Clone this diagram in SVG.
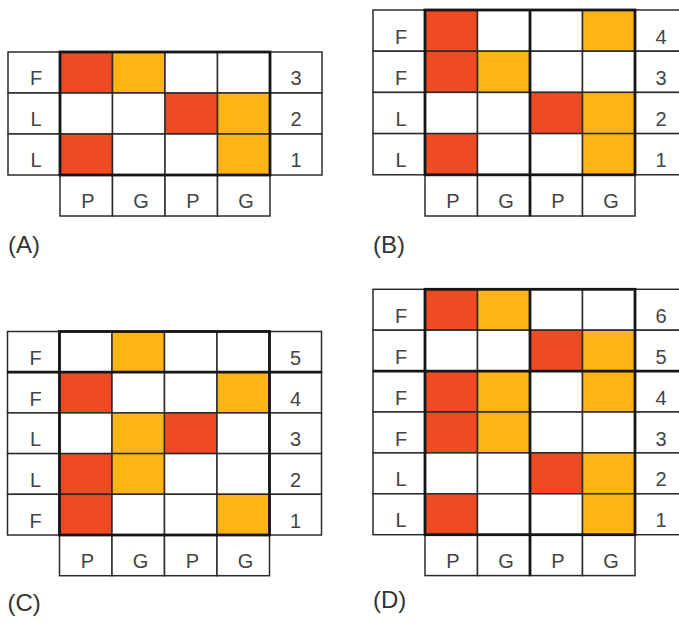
<svg xmlns="http://www.w3.org/2000/svg" width="679" height="625" viewBox="0 0 679 625">
<style>
rect{stroke:#2b2b2b;stroke-width:1.5}
rect.bg{fill:#fff;stroke:none}
.w{fill:#fff}
.r{fill:#EE4B22}
.y{fill:#FDB515}
.o{fill:none;stroke:#161616;stroke-width:2.8}
.k{stroke:#161616;stroke-width:2.8}
.t{font-family:"Liberation Sans",Arial,sans-serif;font-size:20px;fill:#444;text-anchor:middle}
.lab{font-family:"Liberation Sans",Arial,sans-serif;font-size:24px;fill:#333}
</style>
<rect class="bg" x="0" y="0" width="679" height="625"/>

<g id="panelA" transform="translate(8,52)">
<rect class="w" x="0" y="0" width="52" height="41"/><rect class="r" x="52" y="0" width="52.5" height="41"/><rect class="y" x="104.5" y="0" width="52.5" height="41"/><rect class="w" x="157" y="0" width="52.5" height="41"/><rect class="w" x="209.5" y="0" width="52.5" height="41"/><rect class="w" x="262" y="0" width="52" height="41"/>
<rect class="w" x="0" y="41" width="52" height="41"/><rect class="w" x="52" y="41" width="52.5" height="41"/><rect class="w" x="104.5" y="41" width="52.5" height="41"/><rect class="r" x="157" y="41" width="52.5" height="41"/><rect class="y" x="209.5" y="41" width="52.5" height="41"/><rect class="w" x="262" y="41" width="52" height="41"/>
<rect class="w" x="0" y="82" width="52" height="41"/><rect class="r" x="52" y="82" width="52.5" height="41"/><rect class="w" x="104.5" y="82" width="52.5" height="41"/><rect class="w" x="157" y="82" width="52.5" height="41"/><rect class="y" x="209.5" y="82" width="52.5" height="41"/><rect class="w" x="262" y="82" width="52" height="41"/>
<rect class="w" x="52" y="123" width="52.5" height="41"/><rect class="w" x="104.5" y="123" width="52.5" height="41"/><rect class="w" x="157" y="123" width="52.5" height="41"/><rect class="w" x="209.5" y="123" width="52.5" height="41"/>
<rect class="o" x="52" y="0" width="210" height="123"/>
<text class="t" x="28" y="33">F</text><text class="t" x="288" y="33">3</text>
<text class="t" x="28" y="74">L</text><text class="t" x="288" y="74">2</text>
<text class="t" x="28" y="115">L</text><text class="t" x="288" y="115">1</text>
<text class="t" x="80" y="156">P</text><text class="t" x="133" y="156">G</text><text class="t" x="185" y="156">P</text><text class="t" x="238" y="156">G</text>
<text class="lab" x="0" y="201">(A)</text>
</g>

<g id="panelB" transform="translate(373,10)">
<rect class="w" x="0" y="0" width="52" height="41.2"/><rect class="r" x="52" y="0" width="52.5" height="41.2"/><rect class="w" x="104.5" y="0" width="52.5" height="41.2"/><rect class="w" x="157" y="0" width="52.5" height="41.2"/><rect class="y" x="209.5" y="0" width="52.5" height="41.2"/><rect class="w" x="262" y="0" width="52" height="41.2"/>
<rect class="w" x="0" y="41.2" width="52" height="41.2"/><rect class="r" x="52" y="41.2" width="52.5" height="41.2"/><rect class="y" x="104.5" y="41.2" width="52.5" height="41.2"/><rect class="w" x="157" y="41.2" width="52.5" height="41.2"/><rect class="w" x="209.5" y="41.2" width="52.5" height="41.2"/><rect class="w" x="262" y="41.2" width="52" height="41.2"/>
<rect class="w" x="0" y="82.4" width="52" height="41.2"/><rect class="w" x="52" y="82.4" width="52.5" height="41.2"/><rect class="w" x="104.5" y="82.4" width="52.5" height="41.2"/><rect class="r" x="157" y="82.4" width="52.5" height="41.2"/><rect class="y" x="209.5" y="82.4" width="52.5" height="41.2"/><rect class="w" x="262" y="82.4" width="52" height="41.2"/>
<rect class="w" x="0" y="123.6" width="52" height="41.2"/><rect class="r" x="52" y="123.6" width="52.5" height="41.2"/><rect class="w" x="104.5" y="123.6" width="52.5" height="41.2"/><rect class="w" x="157" y="123.6" width="52.5" height="41.2"/><rect class="y" x="209.5" y="123.6" width="52.5" height="41.2"/><rect class="w" x="262" y="123.6" width="52" height="41.2"/>
<rect class="w" x="52" y="164.8" width="52.5" height="41.2"/><rect class="w" x="104.5" y="164.8" width="52.5" height="41.2"/><rect class="w" x="157" y="164.8" width="52.5" height="41.2"/><rect class="w" x="209.5" y="164.8" width="52.5" height="41.2"/>
<rect class="o" x="52" y="0" width="210" height="164.8"/>
<line class="k" x1="157" y1="0" x2="157" y2="206"/>
<text class="t" x="28" y="34">F</text><text class="t" x="288" y="34">4</text>
<text class="t" x="28" y="75">F</text><text class="t" x="288" y="75">3</text>
<text class="t" x="28" y="116">L</text><text class="t" x="288" y="116">2</text>
<text class="t" x="28" y="157">L</text><text class="t" x="288" y="157">1</text>
<text class="t" x="80" y="198">P</text><text class="t" x="133" y="198">G</text><text class="t" x="185" y="198">P</text><text class="t" x="238" y="198">G</text>
<text class="lab" x="0" y="243">(B)</text>
</g>

<g id="panelC" transform="translate(7.5,331.5)">
<rect class="w" x="0" y="0" width="52" height="40.7"/><rect class="w" x="52" y="0" width="52.5" height="40.7"/><rect class="y" x="104.5" y="0" width="52.5" height="40.7"/><rect class="w" x="157" y="0" width="52.5" height="40.7"/><rect class="w" x="209.5" y="0" width="52.5" height="40.7"/><rect class="w" x="262" y="0" width="52" height="40.7"/>
<rect class="w" x="0" y="40.7" width="52" height="40.7"/><rect class="r" x="52" y="40.7" width="52.5" height="40.7"/><rect class="w" x="104.5" y="40.7" width="52.5" height="40.7"/><rect class="w" x="157" y="40.7" width="52.5" height="40.7"/><rect class="y" x="209.5" y="40.7" width="52.5" height="40.7"/><rect class="w" x="262" y="40.7" width="52" height="40.7"/>
<rect class="w" x="0" y="81.4" width="52" height="40.7"/><rect class="w" x="52" y="81.4" width="52.5" height="40.7"/><rect class="y" x="104.5" y="81.4" width="52.5" height="40.7"/><rect class="r" x="157" y="81.4" width="52.5" height="40.7"/><rect class="w" x="209.5" y="81.4" width="52.5" height="40.7"/><rect class="w" x="262" y="81.4" width="52" height="40.7"/>
<rect class="w" x="0" y="122.1" width="52" height="40.7"/><rect class="r" x="52" y="122.1" width="52.5" height="40.7"/><rect class="y" x="104.5" y="122.1" width="52.5" height="40.7"/><rect class="w" x="157" y="122.1" width="52.5" height="40.7"/><rect class="w" x="209.5" y="122.1" width="52.5" height="40.7"/><rect class="w" x="262" y="122.1" width="52" height="40.7"/>
<rect class="w" x="0" y="162.8" width="52" height="40.7"/><rect class="r" x="52" y="162.8" width="52.5" height="40.7"/><rect class="w" x="104.5" y="162.8" width="52.5" height="40.7"/><rect class="w" x="157" y="162.8" width="52.5" height="40.7"/><rect class="y" x="209.5" y="162.8" width="52.5" height="40.7"/><rect class="w" x="262" y="162.8" width="52" height="40.7"/>
<rect class="w" x="52" y="203.5" width="52.5" height="40.7"/><rect class="w" x="104.5" y="203.5" width="52.5" height="40.7"/><rect class="w" x="157" y="203.5" width="52.5" height="40.7"/><rect class="w" x="209.5" y="203.5" width="52.5" height="40.7"/>
<rect class="o" x="52" y="0" width="210" height="203.5"/>
<line class="k" x1="0" y1="40.7" x2="314" y2="40.7"/>
<text class="t" x="28" y="33">F</text><text class="t" x="288" y="33">5</text>
<text class="t" x="28" y="74">F</text><text class="t" x="288" y="74">4</text>
<text class="t" x="28" y="114">L</text><text class="t" x="288" y="114">3</text>
<text class="t" x="28" y="155">L</text><text class="t" x="288" y="155">2</text>
<text class="t" x="28" y="196">F</text><text class="t" x="288" y="196">1</text>
<text class="t" x="80" y="236">P</text><text class="t" x="133" y="236">G</text><text class="t" x="185" y="236">P</text><text class="t" x="238" y="236">G</text>
<text class="lab" x="0" y="279">(C)</text>
</g>

<g id="panelD" transform="translate(373,289.3)">
<rect class="w" x="0" y="0" width="52" height="40.9"/><rect class="r" x="52" y="0" width="52.5" height="40.9"/><rect class="y" x="104.5" y="0" width="52.5" height="40.9"/><rect class="w" x="157" y="0" width="52.5" height="40.9"/><rect class="w" x="209.5" y="0" width="52.5" height="40.9"/><rect class="w" x="262" y="0" width="52" height="40.9"/>
<rect class="w" x="0" y="40.9" width="52" height="40.9"/><rect class="w" x="52" y="40.9" width="52.5" height="40.9"/><rect class="w" x="104.5" y="40.9" width="52.5" height="40.9"/><rect class="r" x="157" y="40.9" width="52.5" height="40.9"/><rect class="y" x="209.5" y="40.9" width="52.5" height="40.9"/><rect class="w" x="262" y="40.9" width="52" height="40.9"/>
<rect class="w" x="0" y="81.8" width="52" height="40.9"/><rect class="r" x="52" y="81.8" width="52.5" height="40.9"/><rect class="y" x="104.5" y="81.8" width="52.5" height="40.9"/><rect class="w" x="157" y="81.8" width="52.5" height="40.9"/><rect class="y" x="209.5" y="81.8" width="52.5" height="40.9"/><rect class="w" x="262" y="81.8" width="52" height="40.9"/>
<rect class="w" x="0" y="122.7" width="52" height="40.9"/><rect class="r" x="52" y="122.7" width="52.5" height="40.9"/><rect class="y" x="104.5" y="122.7" width="52.5" height="40.9"/><rect class="w" x="157" y="122.7" width="52.5" height="40.9"/><rect class="w" x="209.5" y="122.7" width="52.5" height="40.9"/><rect class="w" x="262" y="122.7" width="52" height="40.9"/>
<rect class="w" x="0" y="163.6" width="52" height="40.9"/><rect class="w" x="52" y="163.6" width="52.5" height="40.9"/><rect class="w" x="104.5" y="163.6" width="52.5" height="40.9"/><rect class="r" x="157" y="163.6" width="52.5" height="40.9"/><rect class="y" x="209.5" y="163.6" width="52.5" height="40.9"/><rect class="w" x="262" y="163.6" width="52" height="40.9"/>
<rect class="w" x="0" y="204.5" width="52" height="40.9"/><rect class="r" x="52" y="204.5" width="52.5" height="40.9"/><rect class="w" x="104.5" y="204.5" width="52.5" height="40.9"/><rect class="w" x="157" y="204.5" width="52.5" height="40.9"/><rect class="y" x="209.5" y="204.5" width="52.5" height="40.9"/><rect class="w" x="262" y="204.5" width="52" height="40.9"/>
<rect class="w" x="52" y="245.4" width="52.5" height="40.9"/><rect class="w" x="104.5" y="245.4" width="52.5" height="40.9"/><rect class="w" x="157" y="245.4" width="52.5" height="40.9"/><rect class="w" x="209.5" y="245.4" width="52.5" height="40.9"/>
<rect class="o" x="52" y="0" width="210" height="245.4"/>
<line class="k" x1="0" y1="81.8" x2="314" y2="81.8"/>
<line class="k" x1="157" y1="0" x2="157" y2="286.3"/>
<text class="t" x="28" y="34">F</text><text class="t" x="288" y="34">6</text>
<text class="t" x="28" y="75">F</text><text class="t" x="288" y="75">5</text>
<text class="t" x="28" y="116">F</text><text class="t" x="288" y="116">4</text>
<text class="t" x="28" y="157">F</text><text class="t" x="288" y="157">3</text>
<text class="t" x="28" y="197">L</text><text class="t" x="288" y="197">2</text>
<text class="t" x="28" y="238">L</text><text class="t" x="288" y="238">1</text>
<text class="t" x="80" y="279">P</text><text class="t" x="133" y="279">G</text><text class="t" x="185" y="279">P</text><text class="t" x="238" y="279">G</text>
<text class="lab" x="0" y="319">(D)</text>
</g>
</svg>
